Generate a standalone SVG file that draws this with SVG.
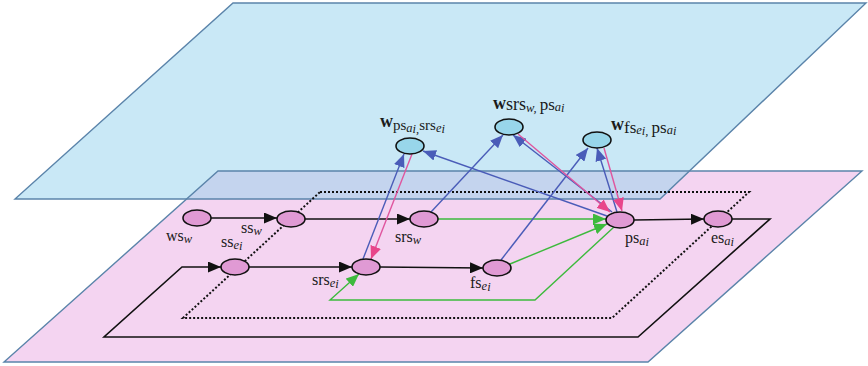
<svg xmlns="http://www.w3.org/2000/svg" width="868" height="366" viewBox="0 0 868 366">
<style>
.lbl{font-family:"Liberation Serif","Times New Roman",serif;font-size:16px;fill:#1a1a1a}
.sub{font-style:italic;font-size:12.5px}
.bw{font-weight:bold;font-size:18px}
.pn{fill:#e09ad4;stroke:#111;stroke-width:1.6}
.bn{fill:#98d6ea;stroke:#111;stroke-width:1.6}
.k{stroke:#111;stroke-width:1.6;fill:none}
.g{stroke:#3dba3d;stroke-width:1.4;fill:none}
.b{stroke:#4a5cb8;stroke-width:1.4;fill:none}
.p{stroke:#e0559e;stroke-width:1.4;fill:none}
.edge{fill:none;stroke:#5b84aa;stroke-width:1.4}
</style>
<defs>
<marker id="ak" markerUnits="userSpaceOnUse" markerWidth="13" markerHeight="11" refX="13" refY="5.5" orient="auto"><path d="M0,0 L13,5.5 L0,11 z" fill="#111"/></marker>
<marker id="ag" markerUnits="userSpaceOnUse" markerWidth="13" markerHeight="11" refX="13" refY="5.5" orient="auto"><path d="M0,0 L13,5.5 L0,11 z" fill="#3dba3d"/></marker>
<marker id="ab" markerUnits="userSpaceOnUse" markerWidth="13" markerHeight="11" refX="13" refY="5.5" orient="auto"><path d="M0,0 L13,5.5 L0,11 z" fill="#4a5cb8"/></marker>
<marker id="ap" markerUnits="userSpaceOnUse" markerWidth="13" markerHeight="11" refX="13" refY="5.5" orient="auto"><path d="M0,0 L13,5.5 L0,11 z" fill="#e8458a"/></marker>
</defs>
<g id="planes">
<polygon points="233,3 866,3 660,199 15,199" fill="#c9e8f6"/>
<polygon points="218,171 862,171 648,362 4,362" fill="#f4d4f1"/>
<polygon points="218,171 690,171 660,199 186.6,199" fill="#c4d4ee"/>
<polygon class="edge" points="233,3 866,3 660,199 15,199"/>
<polygon class="edge" points="218,171 862,171 648,362 4,362"/>
</g>
<g id="frames">
<polygon points="320,192 749,192 612,318 183,318" fill="none" stroke="#111" stroke-width="2" stroke-dasharray="2 2"/>
</g>
<g id="connectors">
<line class="k" x1="211" y1="218" x2="277" y2="218" marker-end="url(#ak)"/>
<line class="k" x1="305" y1="219" x2="410" y2="219" marker-end="url(#ak)"/>
<line class="k" x1="249" y1="267" x2="352" y2="267" marker-end="url(#ak)"/>
<line class="k" x1="380" y1="267" x2="483" y2="268" marker-end="url(#ak)"/>
<line class="k" x1="634" y1="220" x2="704" y2="219" marker-end="url(#ak)"/>
<polyline class="k" stroke-width="2" points="732,219 770,219 638,337 104,337 182,267 221,267" marker-end="url(#ak)"/>
<line class="g" x1="438" y1="219" x2="606" y2="219" marker-end="url(#ag)"/>
<line class="g" x1="510" y1="264" x2="607" y2="224" marker-end="url(#ag)"/>
<polyline class="g" points="614,227 535,300 330,300 359,274" marker-end="url(#ag)"/>
<line class="b" x1="363" y1="259" x2="404" y2="154" marker-end="url(#ab)"/>
<line class="b" x1="607" y1="216" x2="423" y2="151" marker-end="url(#ab)"/>
<line class="b" x1="431" y1="212" x2="503" y2="135" marker-end="url(#ab)"/>
<line class="b" x1="612" y1="212" x2="513" y2="135" marker-end="url(#ab)"/>
<line class="b" x1="501" y1="260" x2="588" y2="148" marker-end="url(#ab)"/>
<line class="b" x1="617" y1="212" x2="597" y2="148" marker-end="url(#ab)"/>
<line class="p" x1="412" y1="154" x2="371" y2="259" marker-end="url(#ap)"/>
<line class="p" x1="518" y1="134" x2="610" y2="212" marker-end="url(#ap)"/>
<line class="p" x1="604" y1="148" x2="622" y2="211" marker-end="url(#ap)"/>
</g>
<g id="ws_w"><ellipse class="pn" cx="197" cy="218" rx="14" ry="8"/><text class="lbl" x="166" y="241">ws<tspan class="sub" dy="2">w</tspan></text></g>
<g id="ss_w"><ellipse class="pn" cx="291" cy="219" rx="14" ry="8"/><text class="lbl" x="241" y="233">ss<tspan class="sub" dy="2">w</tspan></text></g>
<g id="ss_ei"><ellipse class="pn" cx="235" cy="267" rx="14" ry="8"/><text class="lbl" x="221" y="247">ss<tspan class="sub" dy="2">e</tspan><tspan class="sub" font-size="9" dy="1">i</tspan></text></g>
<g id="srs_w"><ellipse class="pn" cx="424" cy="219" rx="14" ry="8"/><text class="lbl" x="395" y="242">srs<tspan class="sub" dy="2">w</tspan></text></g>
<g id="srs_ei"><ellipse class="pn" cx="366" cy="267" rx="14" ry="8"/><text class="lbl" x="312" y="285">srs<tspan class="sub" dy="2">e</tspan><tspan class="sub" font-size="9" dy="1">i</tspan></text></g>
<g id="fs_ei"><ellipse class="pn" cx="497" cy="268" rx="14" ry="8"/><text class="lbl" x="470" y="288">fs<tspan class="sub" dy="2">e</tspan><tspan class="sub" font-size="9" dy="1">i</tspan></text></g>
<g id="ps_ai"><ellipse class="pn" cx="620" cy="220" rx="14" ry="8"/><text class="lbl" x="625" y="243">ps<tspan class="sub" dy="2">a</tspan><tspan class="sub" font-size="9" dy="1">i</tspan></text></g>
<g id="es_ai"><ellipse class="pn" cx="718" cy="219" rx="14" ry="8"/><text class="lbl" x="711" y="243">es<tspan class="sub" dy="2">a</tspan><tspan class="sub" font-size="9" dy="1">i</tspan></text></g>
<g id="w_ps_srs"><ellipse class="bn" cx="410" cy="146" rx="14" ry="8"/><text class="lbl" x="380" y="127"><tspan class="bw">w</tspan><tspan font-size="15" dy="3">ps</tspan><tspan class="sub" font-size="11" dy="2">a</tspan><tspan class="sub" font-size="8" dy="1">i,</tspan><tspan font-size="15" dy="-3">srs</tspan><tspan class="sub" font-size="11" dy="2">e</tspan><tspan class="sub" font-size="8" dy="1">i</tspan></text></g>
<g id="w_srs_ps"><ellipse class="bn" cx="509" cy="127" rx="14" ry="8"/><text class="lbl" x="493" y="109"><tspan class="bw">w</tspan><tspan font-size="18" dy="1">srs</tspan><tspan class="sub" font-size="11" dy="2">w, </tspan><tspan font-size="17" dy="-2">ps</tspan><tspan class="sub" font-size="11" dy="1">a</tspan><tspan class="sub" font-size="8" dy="1">i</tspan></text></g>
<g id="w_fs_ps"><ellipse class="bn" cx="597" cy="140" rx="14" ry="8"/><text class="lbl" x="611" y="130"><tspan class="bw">w</tspan><tspan font-size="17" dy="3">fs</tspan><tspan class="sub" font-size="11" dy="1">e</tspan><tspan class="sub" font-size="8" dy="1">i, </tspan><tspan font-size="17" dy="-2">ps</tspan><tspan class="sub" font-size="11" dy="1">a</tspan><tspan class="sub" font-size="8" dy="1">i</tspan></text></g>
</svg>
